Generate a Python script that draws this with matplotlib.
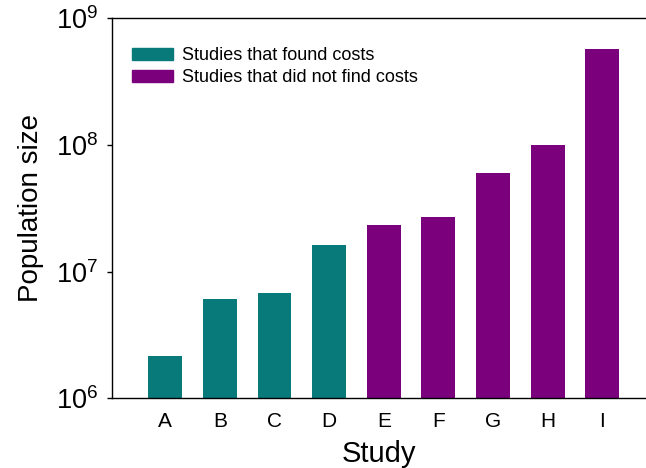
import matplotlib
matplotlib.use("Agg")
from matplotlib import pyplot as plt
from matplotlib.patches import Patch

plt.rcParams["font.family"] = ["Liberation Sans", "DejaVu Sans"]

# Population size per study
studies = ["A", "B", "C", "D", "E", "F", "G", "H", "I"]
population = [2.15e6, 6.05e6, 6.75e6, 1.63e7, 2.34e7, 2.69e7, 6.05e7, 1.0e8, 5.74e8]
found_costs = [True, True, True, True, False, False, False, False, False]
decades = [1e6, 1e7, 1e8, 1e9]
decade_labels = ["$\\mathregular{10^{6}}$", "$\\mathregular{10^{7}}$",
                 "$\\mathregular{10^{8}}$", "$\\mathregular{10^{9}}$"]

teal = "#087a7a"
purple = "#7b007b"

fig = plt.figure(figsize=(6.46, 4.68), dpi=100)
ax = fig.add_axes([0.1738, 0.1489, 0.8262, 0.8116])

colors = [teal if f else purple for f in found_costs]
xs = range(len(studies))
ax.bar(xs, population, width=0.62, color=colors)

ax.set_yscale("log")
ax.set_ylim(1e6, 1e9)
ax.set_xlim(-0.97, 8.8)
ax.set_yticks(decades)
ax.set_yticklabels(decade_labels, fontsize=19.5)
ax.minorticks_off()
ax.set_xticks(list(xs))
ax.set_xticklabels(studies, fontsize=15)
ax.tick_params(axis="x", length=0, pad=9.5)
ax.tick_params(axis="y", length=3.5, width=1.0, pad=7, direction="out")

ax.spines["right"].set_visible(False)
for side in ["left", "bottom", "top"]:
    ax.spines[side].set_linewidth(1.0)

ax.set_xlabel("Study", fontsize=21, labelpad=7)
ax.set_ylabel("Population size", fontsize=20, labelpad=8)

handles = [Patch(color=teal, label="Studies that found costs"),
           Patch(color=purple, label="Studies that did not find costs")]
ax.legend(handles=handles, loc="upper left", bbox_to_anchor=(0.0364, 0.925),
          frameon=False, fontsize=13, handlelength=2.3, handleheight=0.64,
          handletextpad=0.47, labelspacing=0.3, borderpad=0, borderaxespad=0)

fig.savefig("out.png", dpi=100)
